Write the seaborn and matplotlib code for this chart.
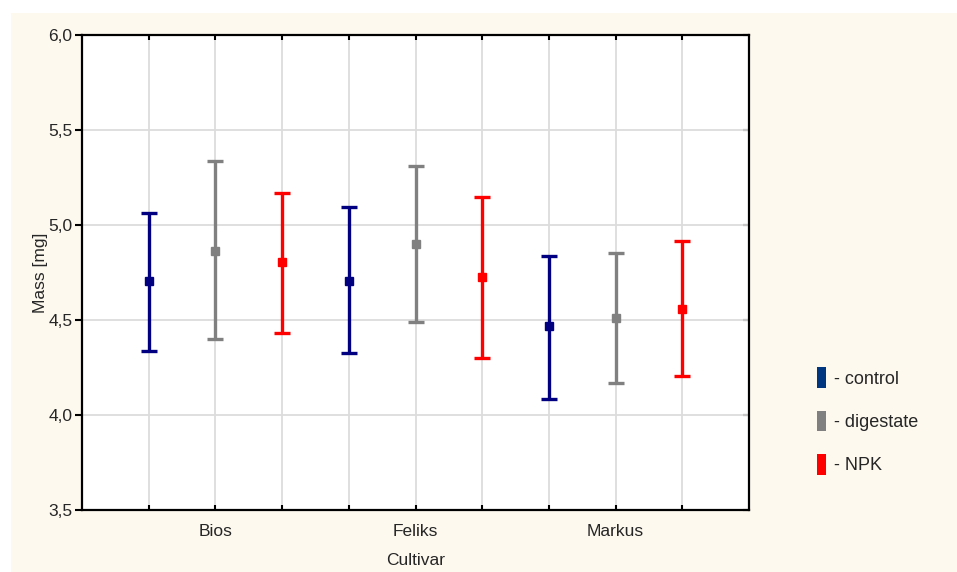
import matplotlib
matplotlib.use("Agg")
import matplotlib.pyplot as plt
import seaborn as sns
import numpy as np
from matplotlib.patches import Patch, Rectangle

sns.set_theme(style="whitegrid")
plt.rcParams['font.family'] = ['Liberation Sans', 'DejaVu Sans']

# data
cultivars = ['Bios', 'Feliks', 'Markus']
treatments = ['control', 'digestate', 'NPK']
colors = ['#000080', '#808080', '#ff0000']
legend_colors = ['#003580', '#808080', '#ff0000']

means = [[4.705, 4.863, 4.805],
         [4.705, 4.900, 4.726],
         [4.468, 4.511, 4.558]]
upper = [[5.063, 5.337, 5.168],
         [5.095, 5.310, 5.147],
         [4.837, 4.853, 4.916]]
lower = [[4.337, 4.400, 4.432],
         [4.326, 4.489, 4.300],
         [4.084, 4.168, 4.205]]

fig = plt.figure(figsize=(9.57, 5.72), dpi=100, facecolor='white')
fig.patches.append(Rectangle((11/957, 0), 1, (572-13)/572, transform=fig.transFigure,
                             facecolor='#fdf9ef', edgecolor='none', zorder=-10))
ax = fig.add_axes([82/957, 62/572, 667/957, 475/572])
ax.set_facecolor('white')

pos = 1
for ci, cult in enumerate(cultivars):
    for ti, treat in enumerate(treatments):
        m = means[ci][ti]
        ax.errorbar([pos], [m],
                    yerr=[[m - lower[ci][ti]], [upper[ci][ti] - m]],
                    fmt='s', color=colors[ti], markersize=6, elinewidth=2.4,
                    capsize=5.5, capthick=2.4, zorder=3)
        pos += 1

ax.set_xlim(0, 10)
ax.set_ylim(3.5, 6.0)
ax.set_xticks(range(1, 10))
ax.set_xticklabels(['', 'Bios', '', '', 'Feliks', '', '', 'Markus', ''])
yt = [3.5, 4.0, 4.5, 5.0, 5.5, 6.0]
ax.set_yticks(yt)
ax.set_yticklabels([f"{v:.1f}".replace('.', ',') for v in yt])

ax.grid(True, color='#dcdcdc', linewidth=1.3)
for s in ax.spines.values():
    s.set_color('black')
    s.set_linewidth(1.6)
    s.set_visible(True)

ax.tick_params(axis='x', which='both', direction='in', length=3.5, width=1.5,
               color='black', top=True, bottom=True, labelsize=12.5, pad=10)
ax.tick_params(axis='y', which='both', direction='out', length=5, width=1.5,
               color='black', left=True, right=False, labelsize=12.5, pad=2)
# inward ticks on the right spine
ax2 = ax.secondary_yaxis('right')
ax2.set_yticks(yt)
ax2.tick_params(direction='in', length=4, width=1.5, color='black', labelright=False)
ax2.spines['right'].set_visible(False)

ax.set_xlabel('Cultivar', fontsize=12.5, labelpad=10)
ax.set_ylabel('Mass [mg]', fontsize=12.5, labelpad=0)

handles = [Patch(facecolor=c, edgecolor='none') for c in legend_colors]
fig.legend(handles, ['- ' + t for t in treatments], loc='center left',
           bbox_to_anchor=(801/957, 1 - 421/572), frameon=False, fontsize=13,
           handlelength=0.5, handleheight=1.4, handletextpad=0.4, labelspacing=1.25)

fig.savefig('out.png', dpi=100, facecolor=fig.get_facecolor())
